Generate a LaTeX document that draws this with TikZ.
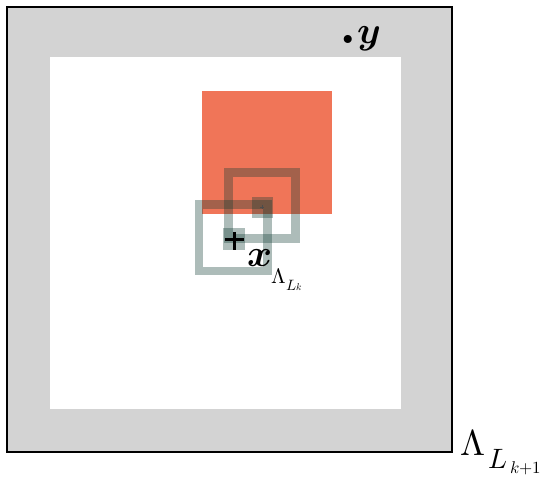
\documentclass[tikz,border=0pt]{standalone}
\usepackage{unicode-math}
\setmathfont{Latin Modern Math}
\definecolor{framegray}{RGB}{211,211,211}
\definecolor{boxred}{RGB}{240,117,88}
\definecolor{ringteal}{RGB}{15,61,51}
\newcommand{\fsz}[1]{\fontsize{#1}{#1}\selectfont}
\begin{document}
\begin{tikzpicture}[x=1pt,y=-1pt,
  ring/.style={draw=ringteal, draw opacity=0.34, line width=8.5pt},
  core/.style={fill=ringteal, fill opacity=0.34},
  lbl/.style={inner sep=0pt, anchor=base west}]
\useasboundingbox (0,0) rectangle (551,478);
\fill[white] (0,0) rectangle (551,478);
% outer region Lambda_{L_{k+1}}
\fill[framegray] (7,7) rectangle (452,452);
\fill[white] (50,57) rectangle (401,409);
\draw[line width=2pt] (7,7) rectangle (452,452);
% red square
\fill[boxred] (202,91) rectangle (332,214);
% boxes
\draw[ring] (228.5,172.5) rectangle (295.5,238.5);
\draw[ring] (199,204.5) rectangle (267.5,271);
\fill[core] (252,197) rectangle (273,218);
\fill[core] (223,228) rectangle (245,250);
% marks
\draw[line width=0.5pt, black!70] (260,207) -- (264,207) (262,205) -- (262,209);
\draw[line width=3pt] (225,240) -- (244,240) (234,232) -- (234,250);
% labels
\node[lbl] (xlab) at (247,266) {\fsz{38}$\symbfit{x}$};
\node[lbl] (ylab) at (339,44) {{\fsz{56}\textbf{.}}\kern1pt{\fsz{38}$\symbfit{y}$}};
\node[lbl] (lk) at (271,283) {{\fsz{21}$\Lambda$}\kern1pt\raisebox{-7pt}{\fsz{15}$L$}\raisebox{-8pt}{\fsz{10}$k$}};
\node[lbl] (lk1) at (460,455) {{\fsz{36}$\Lambda$}\kern3pt\raisebox{-13pt}{\fsz{28}$L$}\kern3pt\raisebox{-18pt}{\fsz{17}$k{+}1$}};
\end{tikzpicture}
\end{document}
